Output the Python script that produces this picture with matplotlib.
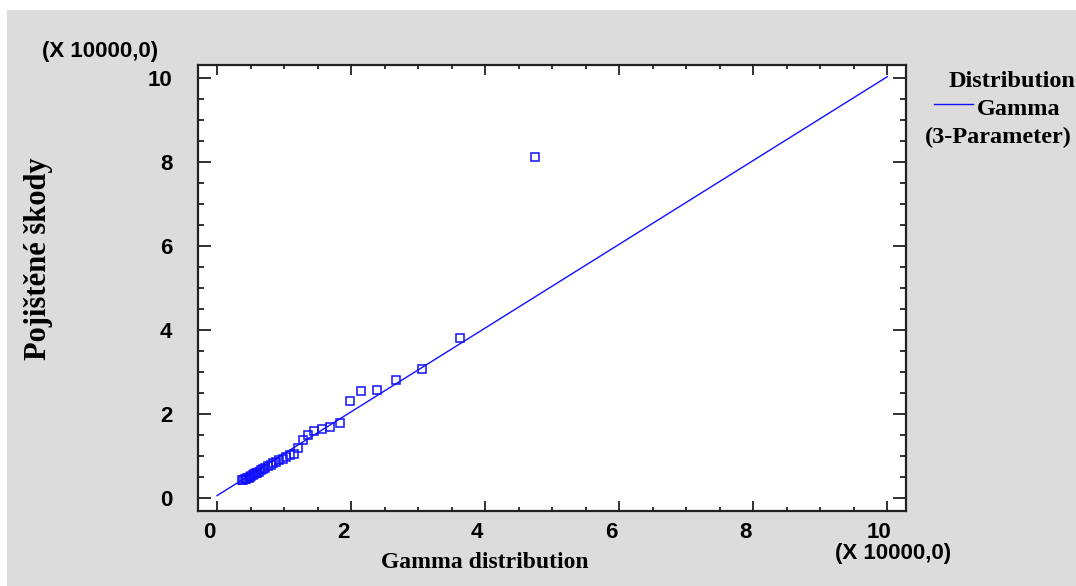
import matplotlib
matplotlib.use('Agg')
import matplotlib.pyplot as plt
import matplotlib.transforms as mtransforms
from matplotlib.patches import Rectangle
from matplotlib.lines import Line2D

# Data (units of 10000)
gamma_q = [0.37, 0.39, 0.41, 0.43, 0.45, 0.47, 0.49, 0.51, 0.53, 0.55, 0.58, 0.60,
           0.63, 0.66, 0.69, 0.72, 0.76, 0.80, 0.84, 0.88, 0.93, 0.98, 1.03, 1.09,
           1.15, 1.21, 1.29, 1.36, 1.45, 1.57, 1.68, 1.83, 1.99, 2.15, 2.38, 2.67,
           3.06, 3.62, 4.74]
skody = [0.42, 0.42, 0.44, 0.44, 0.46, 0.48, 0.50, 0.52, 0.54, 0.56, 0.58, 0.60,
         0.62, 0.65, 0.68, 0.72, 0.75, 0.79, 0.82, 0.86, 0.89, 0.93, 0.97, 1.03,
         1.05, 1.18, 1.38, 1.50, 1.59, 1.63, 1.68, 1.77, 2.31, 2.54, 2.58, 2.80,
         3.07, 3.80, 8.12]
fit_x = [0.0, 10.0]
fit_y = [0.05, 10.04]
xticks = [0, 2, 4, 6, 8, 10]
yticks = [0, 2, 4, 6, 8, 10]

W, H = 1076, 586
fig = plt.figure(figsize=(W / 100, H / 100), dpi=100)
fig.patch.set_facecolor('white')
fig.patches.append(Rectangle((7 / W, 0), 1 - 7 / W, 1 - 10 / H, transform=fig.transFigure,
                             facecolor='#DCDCDC', edgecolor='none', zorder=-10))

ax = fig.add_axes([198 / W, 1 - 511 / H, 708 / W, 446 / H])
ax.set_facecolor('white')

blue = '#1010FF'
ax.plot(fit_x, fit_y, color=blue, lw=1.0, zorder=2)
ax.plot(gamma_q, skody, linestyle='none', marker='s', mfc='none', mec=blue,
        ms=5.7, mew=1.1, zorder=3)

ax.set_xlim(-0.284, 10.28)
ax.set_ylim(-0.317, 10.32)
ax.set_xticks(xticks)
ax.set_yticks(yticks)
ax.set_xticks([v / 2 for v in range(0, 21)], minor=True)
ax.set_yticks([v / 2 for v in range(0, 21)], minor=True)

for s in ax.spines.values():
    s.set_linewidth(1.6)
    s.set_color('#222222')

ax.tick_params(axis='both', which='both', direction='in', top=True, right=True,
               width=1.3, color='#222222')
ax.tick_params(axis='y', which='major', length=9.5, pad=18.5)
ax.tick_params(axis='y', which='minor', length=4.2)
ax.tick_params(axis='x', which='major', length=7.5, pad=8.0)
ax.tick_params(axis='x', which='minor', length=3.0)

tick_font = dict(family='Liberation Sans', weight='bold', size=16)
ax.set_xticklabels([str(t) for t in xticks], fontdict=tick_font)
ax.set_yticklabels([str(t) for t in yticks], fontdict=tick_font)

shift = mtransforms.ScaledTranslation(-0.08, 0, fig.dpi_scale_trans)
for lab in ax.get_xticklabels():
    lab.set_transform(lab.get_transform() + shift)

# Multiplier labels
fig.text(100 / W, 1 - 52 / H, '(X 10000,0)', ha='center', va='center', **tick_font)
fig.text(893 / W, 1 - 554 / H, '(X 10000,0)', ha='center', va='center', **tick_font)

# Axis titles
label_font = dict(family='Liberation Serif', weight='bold')
fig.text(485 / W, 1 - 563 / H, 'Gamma distribution', ha='center', va='center',
         size=17, **label_font)
fig.text(39 / W, 1 - 259 / H, 'Pojištěné škody', ha='center', va='center',
         rotation=90, size=22, **label_font)

# Legend
fig.text(949 / W, 1 - 87 / H, 'Distribution', ha='left', va='baseline', size=17.5, **label_font)
fig.text(977 / W, 1 - 115 / H, 'Gamma', ha='left', va='baseline', size=17.5, **label_font)
fig.text(925 / W, 1 - 143 / H, '(3-Parameter)', ha='left', va='baseline', size=17.5, **label_font)
fig.lines.append(Line2D([934 / W, 973 / W], [1 - 103.5 / H, 1 - 103.5 / H],
                        transform=fig.transFigure, color=blue, lw=1.0))

fig.savefig('out.png', dpi=100, facecolor=fig.get_facecolor())
